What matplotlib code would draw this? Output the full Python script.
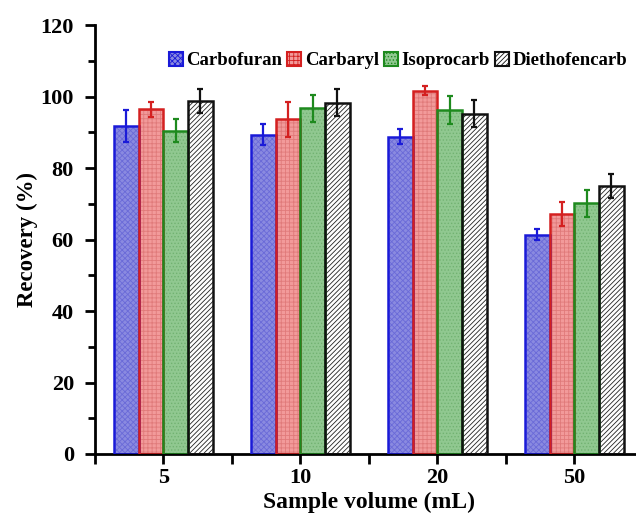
import numpy as np
import matplotlib.pyplot as plt

plt.rcParams['font.family'] = ['Liberation Serif', 'DejaVu Serif']
plt.rcParams['font.weight'] = 'bold'
plt.rcParams['axes.labelweight'] = 'bold'
plt.rcParams['hatch.linewidth'] = 0.6

# Recovery (%) and SD for each pesticide at each sample volume
volumes = ["5", "10", "20", "50"]
carbofuran = [91.8, 89.3, 88.7, 61.3]
carbofuran_err = [4.4, 3.0, 2.1, 1.5]
carbaryl = [96.4, 93.6, 101.6, 67.1]
carbaryl_err = [2.0, 4.9, 1.3, 3.4]
isoprocarb = [90.4, 96.7, 96.2, 70.1]
isoprocarb_err = [3.2, 3.8, 3.9, 3.7]
diethofencarb = [98.7, 98.3, 95.2, 75.0]
diethofencarb_err = [3.3, 3.7, 3.7, 3.3]

series = [
    ("Carbofuran", carbofuran, carbofuran_err, "#8a8ae0", "#6a6ad8", "#1a1ad8", "xxxxxx"),
    ("Carbaryl", carbaryl, carbaryl_err, "#f29a9a", "#e07a7a", "#d42020", "++++"),
    ("Isoprocarb", isoprocarb, isoprocarb_err, "#90c890", "#72b272", "#1e8a1e", "....."),
    ("Diethofencarb", diethofencarb, diethofencarb_err, "#ffffff", "#222222", "#111111", "///////"),
]

fig = plt.figure(figsize=(6.36, 5.21), dpi=100)
ax = fig.add_axes([0.149, 0.1286, 0.862, 0.8234])

x = np.arange(len(volumes))
width = 0.18
for i, (name, vals, errs, face, hatch_col, edge, hatch) in enumerate(series):
    pos = x + (i - 1.5) * width
    # fill with hatch texture, then a solid outline on top
    ax.bar(pos, vals, width, color=face, edgecolor=hatch_col, hatch=hatch, linewidth=0, zorder=2)
    ax.bar(pos, vals, width, fill=False, edgecolor=edge, linewidth=1.8, zorder=3)
    ax.errorbar(pos, vals, yerr=errs, fmt='none', ecolor=edge, elinewidth=1.6,
                capsize=2.5, capthick=1.6, zorder=4)
    # legend proxy
    ax.bar([0], [0], 0, color=face, edgecolor=edge, hatch=hatch, linewidth=1.5, label=name)

ax.set_xlim(-0.5, 3.5)
ax.set_ylim(0, 120)
ax.set_xticks(x)
ax.set_xticklabels(volumes)
ax.set_xticks(np.append(x - 0.5, x[-1] + 0.5), minor=True)
ax.set_yticks(np.arange(0, 121, 20))
ax.set_yticks(np.arange(10, 120, 20), minor=True)

ax.spines['top'].set_visible(False)
ax.spines['right'].set_visible(False)
for s in ['left', 'bottom']:
    ax.spines[s].set_linewidth(2)
ax.tick_params(which='major', direction='out', length=7, width=2, labelsize=16)
ax.tick_params(axis='x', which='major', pad=3)
ax.tick_params(axis='y', which='major', pad=8)
ax.tick_params(which='minor', direction='out', length=7, width=2)
ax.tick_params(axis='y', which='minor', length=5)

ax.set_ylabel("Recovery (%)", fontsize=16.5, labelpad=2)
ax.set_xlabel("Sample volume (mL)", fontsize=17, labelpad=3)

ax.legend(loc='upper right', bbox_to_anchor=(0.985, 0.955), ncol=4, frameon=False,
          fontsize=13.5, handlelength=0.75, handleheight=0.75, handletextpad=0.2,
          columnspacing=0.25, borderaxespad=0)

fig.savefig("out.png", dpi=100)
